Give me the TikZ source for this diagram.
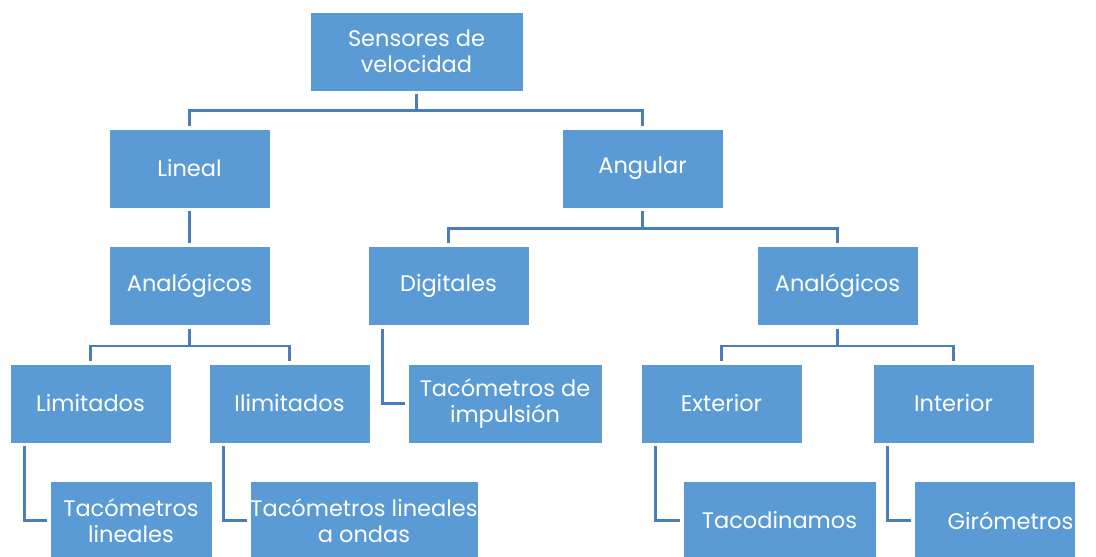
\documentclass[tikz,border=0pt]{standalone}
\usepackage{fontspec}
\setmainfont{Poppins}
\definecolor{boxfill}{HTML}{5B9BD5}
\definecolor{linecol}{HTML}{4A7EBB}
\begin{document}
\begin{tikzpicture}[x=1pt,y=-1pt,
  box/.style={draw=white, line width=0.8pt, fill=boxfill, text=white, align=center,
    inner sep=0pt, font=\fontsize{22.5}{25.5}\selectfont},
  conn/.style={draw=linecol, line width=2.4pt, shorten <=3pt, shorten >=3pt}]
\useasboundingbox (0,0) rectangle (1096,557);
\node[box, minimum width=213, minimum height=79] (s) at (416.5,51.5) {Sensores de\\velocidad};
\node[box, minimum width=161, minimum height=79] (lin) at (189.5,168.5) {Lineal};
\node[box, minimum width=161, minimum height=79] (ang) at (642.5,168.5) {Angular};
\node[box, minimum width=161, minimum height=79] (anl) at (189.5,286) {Analógicos};
\node[box, minimum width=161, minimum height=79] (dig) at (448.5,286) {Digitales};
\node[box, minimum width=161, minimum height=79] (anr) at (837.5,286) {Analógicos};
\node[box, minimum width=161, minimum height=79] (lim) at (90.5,403.5) {Limitados};
\node[box, minimum width=161, minimum height=79] (ili) at (289.5,403.5) {Ilimitados};
\node[box, minimum width=194, minimum height=79] (imp) at (505,403.5) {Tacómetros de\\impulsión};
\node[box, minimum width=161, minimum height=79] (ext) at (721.5,403.5) {Exterior};
\node[box, minimum width=161, minimum height=79] (int) at (953.5,403.5) {Interior};
\node[box, minimum width=162, minimum height=79] (tl) at (131,520.5) {Tacómetros\\lineales};
\node[box, minimum width=228, minimum height=79] (tlo) at (364,520.5) {Tacómetros lineales\\a ondas};
\node[box, minimum width=193, minimum height=79] (tac) at (779.5,520.5) {Tacodinamos};
\node[box, minimum width=161, minimum height=79] (gir) at (994.5,520.5) {\hspace*{32pt}Girómetros};
% connectors
\draw[conn] (s.south) -- ++(0,19) -| (lin.north);
\draw[conn] (s.south) -- ++(0,19) -| (ang.north);
\draw[conn] (lin.south) -- (anl.north);
\draw[conn] (ang.south) -- ++(0,20) -| (dig.north);
\draw[conn] (ang.south) -- ++(0,20) -| (anr.north);
\draw[conn] (anl.south) -- ++(0,20) -| (lim.north);
\draw[conn] (anl.south) -- ++(0,20) -| (ili.north);
\draw[conn] (anr.south) -- ++(0,20) -| (ext.north);
\draw[conn] (anr.south) -- ++(0,20) -| (int.north);
\draw[conn] ([xshift=15pt]dig.south west) |- (imp.west);
\draw[conn] ([xshift=15pt]lim.south west) |- (tl.west);
\draw[conn] ([xshift=15pt]ili.south west) |- (tlo.west);
\draw[conn] ([xshift=15pt]ext.south west) |- (tac.west);
\draw[conn] ([xshift=15pt]int.south west) |- (gir.west);
\end{tikzpicture}
\end{document}
